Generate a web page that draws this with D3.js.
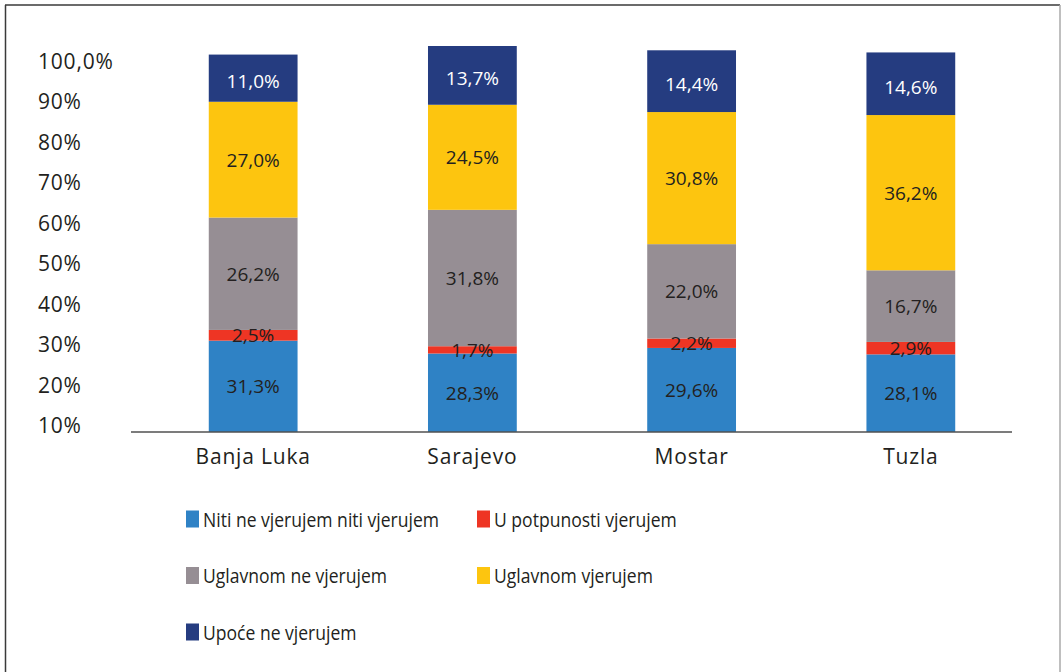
<!DOCTYPE html>
<html>
<head>
<meta charset="utf-8">
<script src="https://cdn.jsdelivr.net/npm/d3@7"></script>
<style>
  body { margin: 0; background: #fff; }
  text { font-family: "Open Sans", sans-serif; fill: #231f20; }
  .axisLabel { font-size: 21px; letter-spacing: 0.8px; }
</style>
</head>
<body>
<svg id="chart" width="1061" height="672"></svg>
<script>
// data
const cities = ["Banja Luka", "Sarajevo", "Mostar", "Tuzla"]
const seriesNames = [
    "Niti ne vjerujem niti vjerujem",
    "U potpunosti vjerujem",
    "Uglavnom ne vjerujem",
    "Uglavnom vjerujem",
    "Upoće ne vjerujem"
]
const nitiNeNiti = [31.3, 28.3, 29.6, 28.1]
const uPotpunosti = [2.5, 1.7, 2.2, 2.9]
const uglavnomNe = [26.2, 31.8, 22.0, 16.7]
const uglavnom = [27.0, 24.5, 30.8, 36.2]
const upoceNe = [11.0, 13.7, 14.4, 14.6]
const seriesColors = ["#2f82c5", "#ee3524", "#968e94", "#fdc50f", "#253c80"]
const labelColors = ["#231f20", "#231f20", "#231f20", "#231f20", "#ffffff"]
const tickValues = [10, 20, 30, 40, 50, 60, 70, 80, 90, 100]
const tickLabels = ["10%", "20%", "30%", "40%", "50%", "60%", "70%", "80%", "90%", "100,0%"]

const svg = d3.select("#chart")
const W = 1061, H = 672

// frame
svg.append("line").attr("x1", 5).attr("y1", 5).attr("x2", 1060).attr("y2", 5)
    .attr("stroke", "#3a3a3a").attr("stroke-width", 1.5)
svg.append("line").attr("x1", 5.5).attr("y1", 5).attr("x2", 5.5).attr("y2", H)
    .attr("stroke", "#3a3a3a").attr("stroke-width", 1.5)
svg.append("line").attr("x1", 1060).attr("y1", 5).attr("x2", 1060).attr("y2", H)
    .attr("stroke", "#aaaaaa").attr("stroke-width", 1.5)

const keys = seriesNames
const rows = cities.map((c, i) => {
    const r = { city: c }
    r[keys[0]] = nitiNeNiti[i]
    r[keys[1]] = uPotpunosti[i]
    r[keys[2]] = uglavnomNe[i]
    r[keys[3]] = uglavnom[i]
    r[keys[4]] = upoceNe[i]
    return r
})
const stacked = d3.stack().keys(keys)(rows)

const x = d3.scaleBand().domain(cities).range([143, 1021]).paddingInner(0.595).paddingOuter(0.3)
const y = d3.scaleLinear().domain([10, 100]).range([432, 46]).clamp(true)
// the tick labels in the source sit on their own spacing
const yLabel = d3.scaleLinear().domain([10, 100]).range([425, 61])

// y labels
svg.append("g").selectAll("text")
    .data(tickValues)
    .enter().append("text")
    .attr("class", "axisLabel")
    .attr("x", 38)
    .attr("y", d => yLabel(d))
    .attr("dominant-baseline", "central")
    .text((d, i) => tickLabels[i])

// bars
const layer = svg.append("g").selectAll("g")
    .data(stacked)
    .enter().append("g")
    .attr("fill", (d, i) => seriesColors[i])

layer.selectAll("rect")
    .data(d => d)
    .enter().append("rect")
    .attr("x", d => x(d.data.city))
    .attr("width", x.bandwidth())
    .attr("y", d => y(d[1]))
    .attr("height", d => y(d[0]) - y(d[1]))

// value labels
const lab = svg.append("g").selectAll("g")
    .data(stacked)
    .enter().append("g")
    .attr("class", "valueLabels")

lab.each(function (s, si) {
    d3.select(this).selectAll("text")
        .data(s)
        .enter().append("text")
        .attr("x", d => x(d.data.city) + x.bandwidth() / 2)
        .attr("y", d => (y(d[0]) + y(d[1])) / 2 + (si === 4 ? 3 : 0))
        .attr("text-anchor", "middle")
        .attr("dominant-baseline", "central")
        .style("font-size", "19px")
        .style("fill", labelColors[si])
        .text(d => d3.format(".1f")(d[1] - d[0]).replace(".", ",") + "%")
})

// x axis
svg.append("line")
    .attr("x1", 131).attr("x2", 1012)
    .attr("y1", y(10)).attr("y2", y(10))
    .attr("stroke", "#505050").attr("stroke-width", 1.5)

svg.append("g").selectAll("text")
    .data(cities)
    .enter().append("text")
    .attr("class", "axisLabel")
    .attr("x", d => x(d) + x.bandwidth() / 2)
    .attr("y", 456)
    .attr("text-anchor", "middle")
    .attr("dominant-baseline", "central")
    .text(d => d)

// legend, two columns
const legend = svg.append("g").selectAll("g")
    .data(seriesNames)
    .enter().append("g")
    .attr("transform", (d, i) => "translate(" + (i % 2 === 0 ? 186 : 477) + "," + (519 + Math.floor(i / 2) * 56.5) + ")")

legend.append("rect")
    .attr("x", 0).attr("y", -8.5)
    .attr("width", 13).attr("height", 17)
    .attr("fill", (d, i) => seriesColors[i])

// legend text is set a bit condensed in the source
legend.append("text")
    .attr("transform", "translate(17,0) scale(0.9,1)")
    .attr("dominant-baseline", "central")
    .style("font-size", "19.5px")
    .text(d => d)
</script>
</body>
</html>
